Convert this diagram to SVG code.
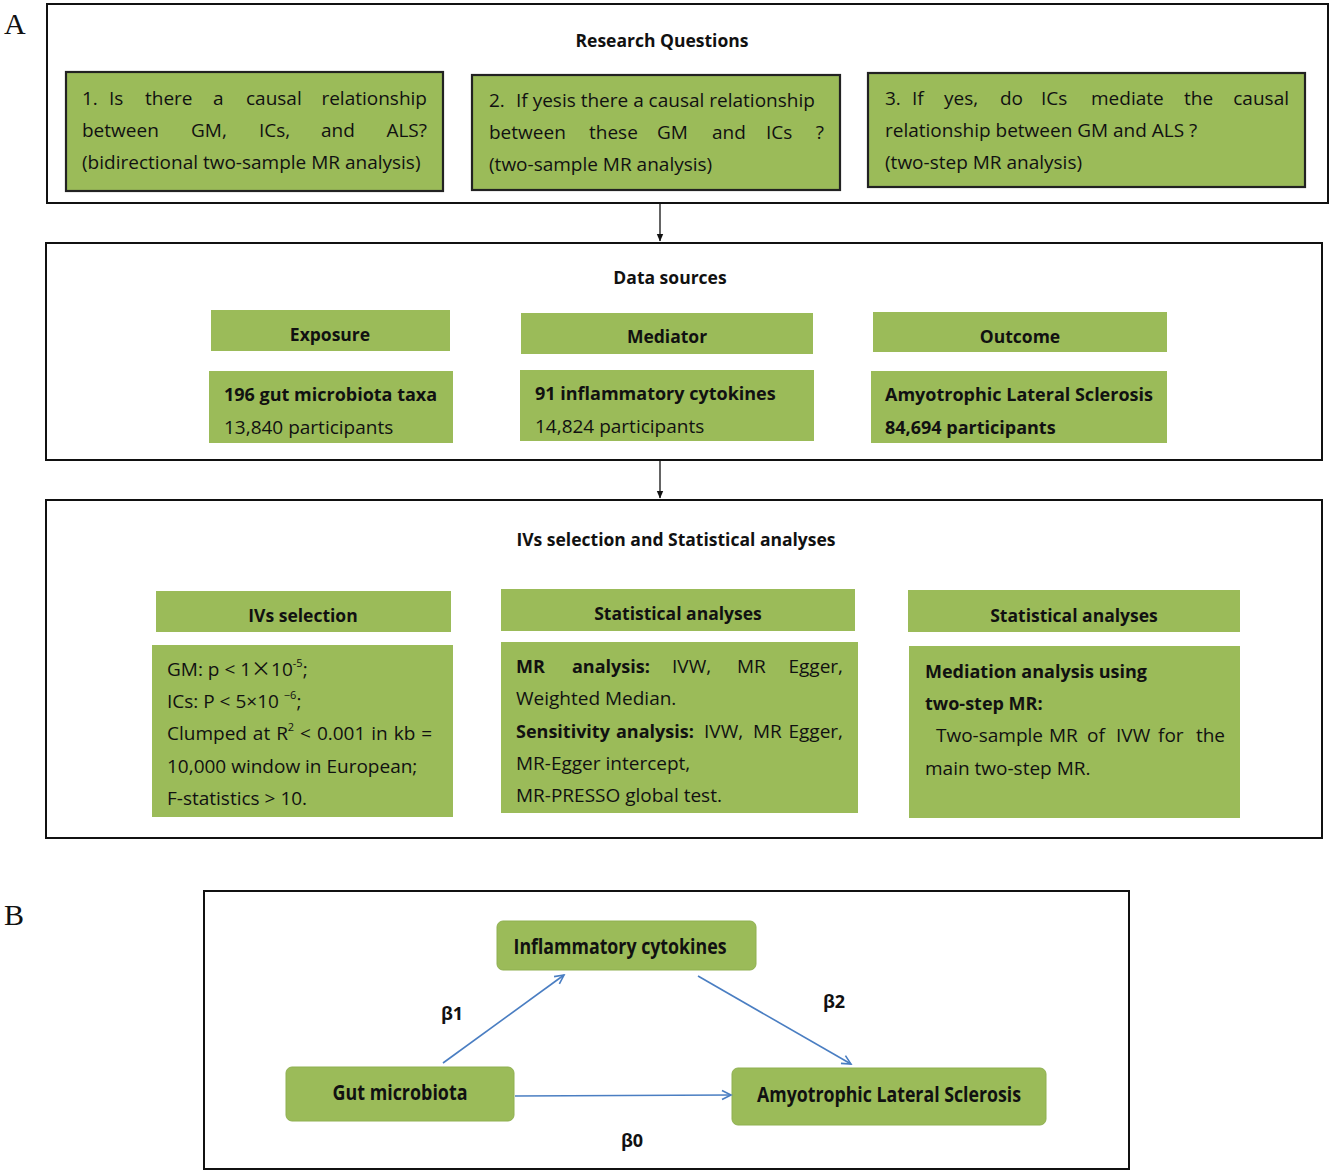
<svg xmlns="http://www.w3.org/2000/svg" width="1333" height="1173" viewBox="0 0 1333 1173">
<style>
.frame{fill:#fff;stroke:#111;stroke-width:2}
.q{fill:#9BBB59;stroke:#222;stroke-width:2.2}
.g{fill:#9BBB59}
.rg{fill:#9BBB59;stroke:#8FB050;stroke-width:1}
text{font-family:"Open Sans","Liberation Sans",sans-serif;fill:#111}
.t{font-size:19px}
.b{font-size:18px;font-weight:bold}
.h{font-size:17.5px;font-weight:bold}
.c{text-anchor:middle}
.lab{font-family:"Liberation Serif","DejaVu Serif",serif;font-size:30px}
.nb{font-size:21px;font-weight:bold}
.beta{font-size:18px;font-weight:bold}
.conn{stroke:#111;stroke-width:1.3;fill:none}
.blue{stroke:#4A7EC2;stroke-width:1.6;fill:none}
</style>
<defs>
<marker id="ah" markerWidth="8" markerHeight="8" refX="7" refY="4" orient="auto" markerUnits="userSpaceOnUse">
<path d="M0,0.8 L7.5,4 L0,7.2 Z" fill="#111"/>
</marker>
<marker id="ab" markerWidth="12" markerHeight="12" refX="10" refY="6" orient="auto" markerUnits="userSpaceOnUse">
<path d="M1,1.5 L10,6 L1,10.5" fill="none" stroke="#4A7EC2" stroke-width="1.6"/>
</marker>
</defs>
<rect width="1333" height="1173" fill="#fff"/>

<text class="lab" x="4" y="34">A</text>
<text class="lab" x="4" y="925">B</text>

<g id="research-questions">
<rect class="frame" x="47" y="4" width="1281" height="199"/>
<text class="h c" x="662" y="47">Research Questions</text>
</g>
<g id="q1">
<rect class="q" x="66" y="72" width="377" height="119"/>
<text class="t" y="105"><tspan x="82">1.</tspan><tspan x="109">Is</tspan><tspan x="145">there</tspan><tspan x="213">a</tspan><tspan x="246">causal</tspan><tspan x="427" text-anchor="end">relationship</tspan></text>
<text class="t" y="137"><tspan x="82">between</tspan><tspan x="191">GM,</tspan><tspan x="259">ICs,</tspan><tspan x="321">and</tspan><tspan x="427" text-anchor="end">ALS?</tspan></text>
<text class="t" x="82" y="169">(bidirectional two-sample MR analysis)</text>
</g>
<g id="q2">
<rect class="q" x="472" y="75" width="368" height="115"/>
<text class="t" y="107"><tspan x="489">2.</tspan><tspan x="516">If yesis there a causal relationship</tspan></text>
<text class="t" y="139"><tspan x="489">between</tspan><tspan x="589">these</tspan><tspan x="657">GM</tspan><tspan x="712">and</tspan><tspan x="766">ICs</tspan><tspan x="824" text-anchor="end">?</tspan></text>
<text class="t" x="489" y="171">(two-sample MR analysis)</text>
</g>
<g id="q3">
<rect class="q" x="868" y="73" width="437" height="114"/>
<text class="t" y="105"><tspan x="885">3.</tspan><tspan x="912">If</tspan><tspan x="944">yes,</tspan><tspan x="1000">do</tspan><tspan x="1041">ICs</tspan><tspan x="1091">mediate</tspan><tspan x="1184">the</tspan><tspan x="1289" text-anchor="end">causal</tspan></text>
<text class="t" x="885" y="137">relationship between GM and ALS ?</text>
<text class="t" x="885" y="169">(two-step MR analysis)</text>
</g>

<g id="data-sources">
<rect class="frame" x="46" y="243" width="1276" height="217"/>
<text class="h c" x="670" y="284">Data sources</text>
</g>
<g id="exposure">
<rect class="g" x="211" y="310" width="239" height="41"/>
<text class="h c" x="330" y="341">Exposure</text>
<rect class="g" x="209" y="371" width="244" height="72"/>
<text class="b" x="224" y="401">196 gut microbiota taxa</text>
<text class="t" x="224" y="434">13,840 participants</text>
</g>
<g id="mediator">
<rect class="g" x="521" y="313" width="292" height="41"/>
<text class="h c" x="667" y="343">Mediator</text>
<rect class="g" x="520" y="370" width="294" height="71"/>
<text class="b" x="535" y="400">91 inflammatory cytokines</text>
<text class="t" x="535" y="433">14,824 participants</text>
</g>
<g id="outcome">
<rect class="g" x="873" y="312" width="294" height="40"/>
<text class="h c" x="1020" y="343">Outcome</text>
<rect class="g" x="871" y="371" width="296" height="72"/>
<text class="b" x="885" y="401">Amyotrophic Lateral Sclerosis</text>
<text class="b" x="885" y="434">84,694 participants</text>
</g>

<g id="ivs-stats">
<rect class="frame" x="46" y="500" width="1276" height="338"/>
<text class="h c" x="676" y="546">IVs selection and Statistical analyses</text>
</g>
<g id="ivs-selection">
<rect class="g" x="156" y="591" width="295" height="41"/>
<text class="h c" x="303" y="622">IVs selection</text>
<rect class="g" x="152" y="645" width="301" height="172"/>
<text class="t" x="167" y="676">GM: p &lt; 1<tspan font-family="'Noto Sans CJK SC',sans-serif" font-size="20">×</tspan>10<tspan font-size="11" dy="-9">-5</tspan><tspan dy="9">;</tspan></text>
<text class="t" x="167" y="708">ICs: P &lt; 5×10 <tspan font-size="11" dy="-9">−6</tspan><tspan dy="9">;</tspan></text>
<text class="t" x="167" y="740" word-spacing="1">Clumped at R<tspan font-size="11" dy="-9">2</tspan><tspan dy="9"> &lt; 0.001 in kb =</tspan></text>
<text class="t" x="167" y="773">10,000 window in European;</text>
<text class="t" x="167" y="805">F-statistics &gt; 10.</text>
</g>
<g id="stat-analyses-1">
<rect class="g" x="501" y="589" width="354" height="42"/>
<text class="h c" x="678" y="620">Statistical analyses</text>
<rect class="g" x="501" y="642" width="357" height="171"/>
<text class="t" y="673"><tspan x="516" class="b">MR</tspan><tspan x="572" class="b">analysis:</tspan><tspan x="672">IVW,</tspan><tspan x="737">MR</tspan><tspan x="843" text-anchor="end">Egger,</tspan></text>
<text class="t" x="516" y="705">Weighted Median.</text>
<text class="t" y="738"><tspan x="516" class="b">Sensitivity</tspan><tspan x="616" class="b">analysis:</tspan><tspan x="704">IVW,</tspan><tspan x="753">MR</tspan><tspan x="843" text-anchor="end">Egger,</tspan></text>
<text class="t" x="516" y="770">MR-Egger intercept,</text>
<text class="t" x="516" y="802">MR-PRESSO global test.</text>
</g>
<g id="stat-analyses-2">
<rect class="g" x="908" y="590" width="332" height="42"/>
<text class="h c" x="1074" y="622">Statistical analyses</text>
<rect class="g" x="909" y="646" width="331" height="172"/>
<text class="b" x="925" y="678">Mediation analysis using</text>
<text class="b" x="925" y="710">two-step MR:</text>
<text class="t" y="742"><tspan x="936">Two-sample</tspan><tspan x="1049">MR</tspan><tspan x="1087">of</tspan><tspan x="1116">IVW</tspan><tspan x="1158">for</tspan><tspan x="1225" text-anchor="end">the</tspan></text>
<text class="t" x="925" y="775">main two-step MR.</text>
</g>

<g id="mediation-panel">
<rect class="frame" x="204" y="891" width="925" height="278"/>
</g>
<g id="inflammatory-cytokines">
<rect class="rg" x="497" y="921" width="259" height="49" rx="6"/>
<text class="nb c" x="620" y="954" textLength="213" lengthAdjust="spacingAndGlyphs">Inflammatory cytokines</text>
</g>
<g id="gut-microbiota">
<rect class="rg" x="286" y="1067" width="228" height="54" rx="6"/>
<text class="nb c" x="400" y="1100" textLength="135" lengthAdjust="spacingAndGlyphs">Gut microbiota</text>
</g>
<g id="als">
<rect class="rg" x="732" y="1068" width="314" height="57" rx="6"/>
<text class="nb c" x="889" y="1102" textLength="264" lengthAdjust="spacingAndGlyphs">Amyotrophic Lateral Sclerosis</text>
</g>

<g id="connectors">
<line class="conn" x1="660" y1="204" x2="660" y2="241" marker-end="url(#ah)"/>
<line class="conn" x1="660" y1="461" x2="660" y2="498" marker-end="url(#ah)"/>
<line class="blue" x1="443" y1="1063" x2="564" y2="975" marker-end="url(#ab)"/>
<line class="blue" x1="698" y1="976" x2="851" y2="1064" marker-end="url(#ab)"/>
<line class="blue" x1="515" y1="1096" x2="731" y2="1095" marker-end="url(#ab)"/>
<text class="beta c" x="452" y="1020">β1</text>
<text class="beta c" x="834" y="1008">β2</text>
<text class="beta c" x="632" y="1147">β0</text>
</g>
</svg>
